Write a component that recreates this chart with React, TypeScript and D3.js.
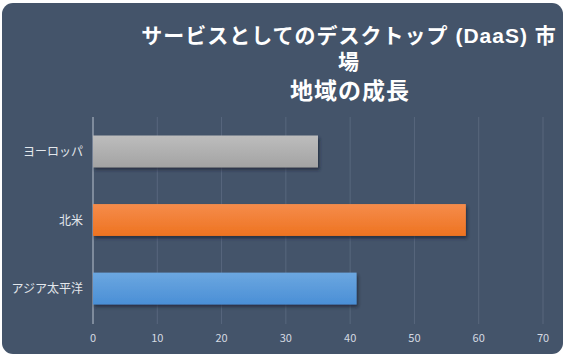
import React from "react";
import * as d3 from "d3";

const categories = ["ヨーロッパ", "北米", "アジア太平洋"];
const values = [35, 58, 41];
const barColors = [
  ["#bdbdbd", "#a3a3a3"],
  ["#f58c4c", "#ee7320"],
  ["#6ca7e0", "#4a8fd6"],
];
const xTicks = [0, 10, 20, 30, 40, 50, 60, 70];
const titleLines = ["サービスとしてのデスクトップ (DaaS) 市", "場"];
const subtitle = "地域の成長";

const W = 568;
const H = 357;
const FONT = "'Noto Sans CJK JP', 'Noto Sans', sans-serif";
const TFONT = "'Liberation Sans', 'Noto Sans CJK JP', sans-serif";

export default function App() {
  const x = d3.scaleLinear().domain([0, 70]).range([93, 543]);
  const y = d3.scaleBand<string>().domain(categories).range([117, 323]).paddingInner(0.535).paddingOuter(0.27);
  return (
    <svg width={W} height={H} style={{ position: "absolute", left: 0, top: 0 }}>
      <defs>
        {barColors.map((c, i) => (
          <linearGradient key={i} id={`g${i}`} x1="0" y1="0" x2="0" y2="1">
            <stop offset="0%" stopColor={c[0]} />
            <stop offset="100%" stopColor={c[1]} />
          </linearGradient>
        ))}
        <filter id="sh" x="-5%" y="-20%" width="110%" height="150%">
          <feDropShadow dx="1.5" dy="2.5" stdDeviation="1.5" floodColor="#1a2230" floodOpacity="0.7" />
        </filter>
      </defs>
      <rect x={0} y={0} width={W} height={H} fill="#ffffff" />
      <rect x={2} y={3} width={561} height={351} rx={11} ry={11} fill="#44546a" />
      {titleLines.map((t, i) => (
        <text key={i} x={349} y={43 + i * 26} textAnchor="middle" fill="#ffffff" fontFamily={TFONT} fontWeight="bold" fontSize={21} letterSpacing={1}>
          {t}
        </text>
      ))}
      <text x={350} y={99} textAnchor="middle" fill="#ffffff" fontFamily={TFONT} fontWeight="bold" fontSize={23} letterSpacing={1}>
        {subtitle}
      </text>
      {xTicks.map((t) => (
        <g key={t}>
          <line x1={x(t)} x2={x(t)} y1={117} y2={324} stroke={t === 0 ? "#b9c2ce" : "#58677d"} strokeWidth={1} />
          <text x={x(t)} y={342} textAnchor="middle" fill="#d5dae2" fontFamily={FONT} fontSize={11}>
            {t}
          </text>
        </g>
      ))}
      {categories.map((c, i) => (
        <g key={c}>
          <rect
            x={x(0)}
            y={y(c)!}
            width={x(values[i]) - x(0)}
            height={y.bandwidth()}
            fill={`url(#g${i})`}
            filter="url(#sh)"
          />
          <text
            x={83}
            y={y(c)! + y.bandwidth() / 2 + 4.5}
            textAnchor="end"
            fill="#e3e7ec"
            fontFamily={FONT}
            fontSize={12}
          >
            {c}
          </text>
        </g>
      ))}
    </svg>
  );
}
